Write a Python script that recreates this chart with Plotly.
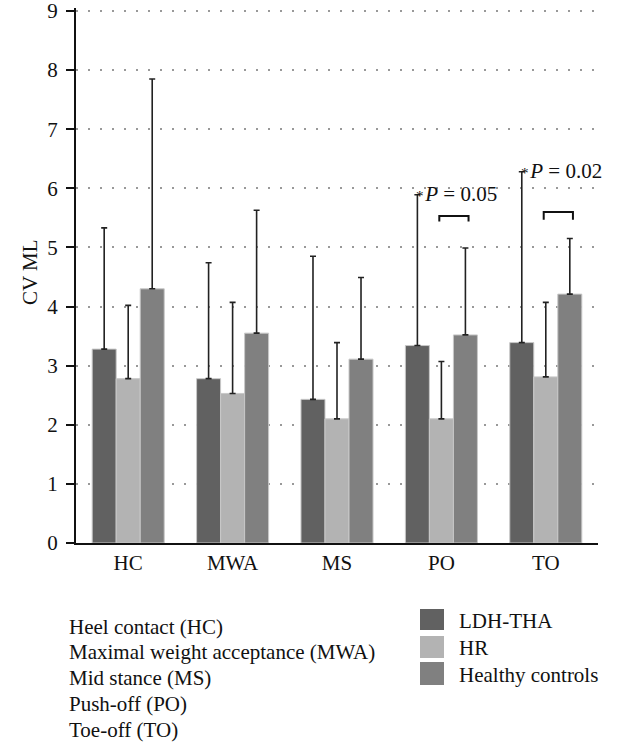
import plotly.graph_objects as go

phases = ["HC", "MWA", "MS", "PO", "TO"]
phase_names = ["Heel contact (HC)", "Maximal weight acceptance (MWA)", "Mid stance (MS)",
               "Push-off (PO)", "Toe-off (TO)"]
groups = ["LDH-THA", "HR", "Healthy controls"]
colors = ["#616161", "#b3b3b3", "#808080"]

ldh_mean = [3.28, 2.78, 2.43, 3.34, 3.39]
ldh_sd = [2.05, 1.96, 2.42, 2.55, 2.89]
hr_mean = [2.78, 2.53, 2.10, 2.10, 2.81]
hr_sd = [1.24, 1.54, 1.29, 0.97, 1.26]
ctrl_mean = [4.30, 3.55, 3.11, 3.52, 4.21]
ctrl_sd = [3.55, 2.08, 1.38, 1.47, 0.94]

sig_phases = ["PO", "TO"]
sig_labels = ["0.05", "0.02"]
bracket_top = [5.53, 5.60]
bracket_bottom = [5.44, 5.47]

yticks = [0, 1, 2, 3, 4, 5, 6, 7, 8, 9]
ymax = 9.05

FONT = "Liberation Serif"
FS = 21
W, H = 621, 742
PL, PR, PB = 76, 598, 543  # plot area in page pixels
UNIT = (543 - 11) / 9
PT = PB - UNIT * ymax
L, T = PL, PT
R = W - PR
B = H - PB
PW = PR - PL
PH = PB - PT


def px(x):
    return (x - PL) / PW


def py(y):
    return (PB - y) / PH


fig = go.Figure()
means = [ldh_mean, hr_mean, ctrl_mean]
sds = [ldh_sd, hr_sd, ctrl_sd]
for g, c, m, s in zip(groups, colors, means, sds):
    fig.add_trace(go.Bar(
        x=phases, y=m, name=g,
        marker=dict(color=c, line=dict(color="#c8c8c8", width=1)),
        error_y=dict(type="data", array=s, arrayminus=[0] * len(s), symmetric=False,
                     color="#222222", thickness=1.6, width=3),
        showlegend=False,
    ))

bar_w = 0.69 / 3
for ph, lab, yt, yb in zip(sig_phases, sig_labels, bracket_top, bracket_bottom):
    i = phases.index(ph)
    x0, x1 = i - 0.02, i + 0.26
    fig.add_shape(type="path", xref="x", yref="y",
                  path=f"M {x0} {yb} L {x0} {yt} L {x1} {yt} L {x1} {yb}",
                  line=dict(color="#111111", width=2))
    ytop = ldh_mean[i] + ldh_sd[i]
    fig.add_annotation(x=i - bar_w, y=ytop, xref="x", yref="y",
                       text=f"<span style=\"font-size:15px\">*</span>&#8202;<i>P</i> = {lab}",
                       showarrow=False, xanchor="left", yanchor="middle", xshift=-3, yshift=1,
                       font=dict(family=FONT, size=FS, color="#111111"))

# left description list
line_y = [627, 652, 678, 704, 730]
for name, yy in zip(phase_names, line_y):
    fig.add_annotation(x=px(67), y=py(yy), xref="paper", yref="paper", text=name,
                       showarrow=False, xanchor="left", yanchor="middle",
                       font=dict(family=FONT, size=FS, color="#111111"))

# group legend
sw_y = [(609, 630), (636, 658), (662, 685)]
for g, c, (y0, y1) in zip(groups, colors, sw_y):
    fig.add_shape(type="rect", xref="paper", yref="paper",
                  x0=px(420), x1=px(444), y0=py(y1), y1=py(y0),
                  fillcolor=c, line=dict(width=0))
    fig.add_annotation(x=px(457), y=py((y0 + y1) / 2 + 1), xref="paper", yref="paper", text=g,
                       showarrow=False, xanchor="left", yanchor="middle",
                       font=dict(family=FONT, size=FS, color="#111111"))

fig.add_annotation(x=px(30), y=py(272), xref="paper", yref="paper", text="CV ML",
                   textangle=-90, showarrow=False, xanchor="center", yanchor="middle",
                   font=dict(family=FONT, size=FS, color="#111111"))

fig.update_layout(
    width=W, height=H,
    margin=dict(l=L, r=R, t=T, b=B, autoexpand=False),
    paper_bgcolor="white", plot_bgcolor="white",
    barmode="group", bargap=0.31, bargroupgap=0,
    font=dict(family=FONT, size=FS, color="#111111"),
    xaxis=dict(showline=True, linecolor="#111111", linewidth=2, ticks="",
               tickfont=dict(family=FONT, size=FS, color="#111111"),
               showgrid=False, zeroline=False, automargin=False,
               range=[-0.5, 4.5], ticklabelstandoff=0),
    yaxis=dict(range=[0, ymax], tickvals=yticks, showline=True, linecolor="#111111", linewidth=2,
               ticks="outside", ticklen=8, tickwidth=2, tickcolor="#111111",
               tickfont=dict(family=FONT, size=FS, color="#111111"),
               showgrid=True, gridcolor="#999999", gridwidth=1.5, griddash="1.5px,10.5px",
               zeroline=False, automargin=False, ticklabelstandoff=4,
               ticklabeloverflow="allow"),
)

fig.write_html("out.html", config={"displayModeBar": False},
               post_script="document.body.style.margin='0px';document.body.style.overflow='hidden';")
